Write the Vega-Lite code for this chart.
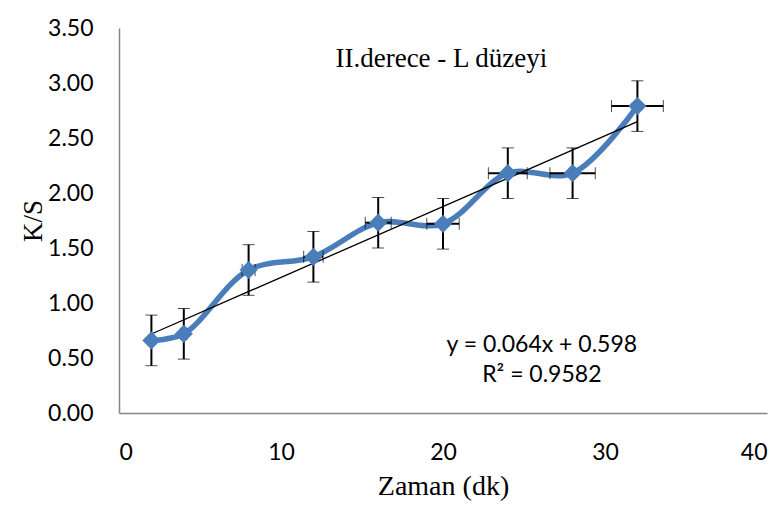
{
  "$schema": "https://vega.github.io/schema/vega-lite/v6.json",
  "autosize": "none",
  "width": 648,
  "height": 385,
  "padding": {"left": 119, "top": 28, "right": 17, "bottom": 92},
  "background": "white",
  "config": {"view": {"stroke": null}},
  "data": {"values": [
    {"zaman": 2, "ks": 0.66, "xlo": 1.9, "xhi": 2.1, "ylo": 0.43, "yhi": 0.89},
    {"zaman": 4, "ks": 0.72, "xlo": 3.8, "xhi": 4.2, "ylo": 0.49, "yhi": 0.95},
    {"zaman": 8, "ks": 1.30, "xlo": 7.6, "xhi": 8.4, "ylo": 1.07, "yhi": 1.53},
    {"zaman": 12, "ks": 1.42, "xlo": 11.4, "xhi": 12.6, "ylo": 1.19, "yhi": 1.65},
    {"zaman": 16, "ks": 1.73, "xlo": 15.2, "xhi": 16.8, "ylo": 1.50, "yhi": 1.96},
    {"zaman": 20, "ks": 1.72, "xlo": 19.0, "xhi": 21.0, "ylo": 1.49, "yhi": 1.95},
    {"zaman": 24, "ks": 2.18, "xlo": 22.8, "xhi": 25.2, "ylo": 1.95, "yhi": 2.41},
    {"zaman": 28, "ks": 2.18, "xlo": 26.6, "xhi": 29.4, "ylo": 1.95, "yhi": 2.41},
    {"zaman": 32, "ks": 2.79, "xlo": 30.4, "xhi": 33.6, "ylo": 2.56, "yhi": 3.02}
  ]},
  "encoding": {
    "x": {"field": "zaman", "type": "quantitative",
      "scale": {"domain": [0, 40], "nice": false},
      "axis": {"values": [0, 10, 20, 30, 40], "grid": false, "ticks": false,
        "domainColor": "#868686", "domainWidth": 1.5,
        "labelFont": "Lato", "labelFontSize": 23, "labelColor": "#000", "labelPadding": 28,
        "title": "Zaman (dk)", "titleFont": "Liberation Serif", "titleFontSize": 28,
        "titleFontWeight": "normal", "titleColor": "#000", "titlePadding": 8}},
    "y": {"field": "ks", "type": "quantitative",
      "scale": {"domain": [0, 3.5], "nice": false},
      "axis": {"values": [0, 0.5, 1, 1.5, 2, 2.5, 3, 3.5], "format": ".2f", "grid": false, "ticks": false,
        "domainColor": "#868686", "domainWidth": 1.5,
        "labelFont": "Lato", "labelFontSize": 23, "labelColor": "#000", "labelPadding": 26,
        "title": "K/S", "titleFont": "Liberation Serif", "titleFontSize": 27,
        "titleFontWeight": "normal", "titleColor": "#000", "titlePadding": 0}}
  },
  "layer": [
    {
      "mark": {"type": "line", "interpolate": "catmull-rom", "color": "#4A7EBB", "strokeWidth": 5.5}
    },
    {
      "transform": [{"regression": "ks", "on": "zaman", "method": "linear", "extent": [2, 32]}],
      "mark": {"type": "line", "color": "#000", "strokeWidth": 1.3}
    },
    {
      "mark": {"type": "errorbar", "ticks": {"size": 12, "color": "#000", "strokeWidth": 2}, "rule": {"color": "#000", "strokeWidth": 2}},
      "encoding": {
        "y": {"field": "ylo", "type": "quantitative"},
        "y2": {"field": "yhi"}
      }
    },
    {
      "mark": {"type": "errorbar", "ticks": {"size": 12, "color": "#000", "strokeWidth": 2}, "rule": {"color": "#000", "strokeWidth": 2}},
      "encoding": {
        "x": {"field": "xlo", "type": "quantitative"},
        "x2": {"field": "xhi"}
      }
    },
    {
      "mark": {"type": "point", "shape": "diamond", "filled": true, "size": 330, "color": "#4A7EBB", "opacity": 1}
    },
    {
      "data": {"values": [
        {"tx": 19.9, "ty": 3.22, "label": "II.derece - L düzeyi"}
      ]},
      "mark": {"type": "text", "font": "Liberation Serif", "fontSize": 27, "color": "#000", "baseline": "middle", "align": "center"},
      "encoding": {
        "x": {"field": "tx", "type": "quantitative"},
        "y": {"field": "ty", "type": "quantitative"},
        "text": {"field": "label"}
      }
    },
    {
      "data": {"values": [
        {"tx": 26.1, "ty": 0.62, "label": "y = 0.064x + 0.598"},
        {"tx": 26.1, "ty": 0.345, "label": "R² = 0.9582"}
      ]},
      "mark": {"type": "text", "font": "Lato", "fontSize": 23, "color": "#000", "baseline": "middle", "align": "center"},
      "encoding": {
        "x": {"field": "tx", "type": "quantitative"},
        "y": {"field": "ty", "type": "quantitative"},
        "text": {"field": "label"}
      }
    }
  ]
}
